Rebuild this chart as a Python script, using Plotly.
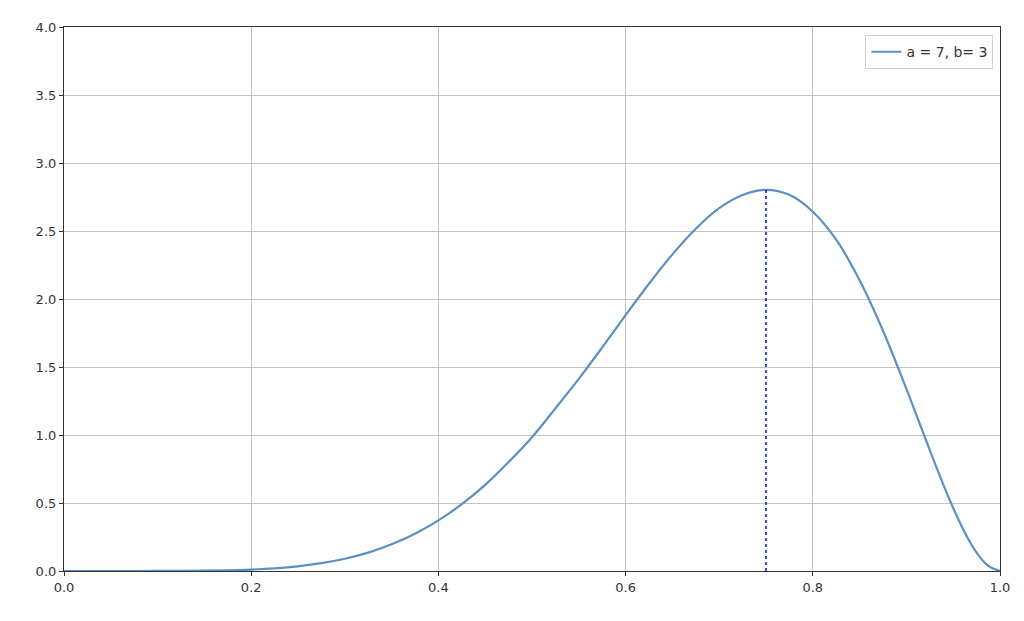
import plotly.graph_objects as go

# Curve samples (x in 0..1, density values)
x_vals = [0.0, 0.025, 0.05, 0.075, 0.1, 0.125, 0.15, 0.175, 0.2, 0.225, 0.25, 0.275,
          0.3, 0.325, 0.35, 0.375, 0.4, 0.425, 0.45, 0.475, 0.5, 0.525, 0.55, 0.575,
          0.6, 0.625, 0.65, 0.675, 0.7, 0.725, 0.75, 0.775, 0.8, 0.825, 0.85, 0.875,
          0.9, 0.9125, 0.925, 0.9375, 0.95, 0.9625, 0.975, 0.9875, 1.0]
y_vals = [0.0, 0.0, 0.0, 0.00004, 0.0002, 0.0007, 0.0021, 0.0049, 0.0103, 0.0196, 0.0346, 0.0573,
          0.090, 0.135, 0.196, 0.274, 0.372, 0.491, 0.633, 0.801, 0.984, 1.196, 1.413, 1.644,
          1.881, 2.112, 2.328, 2.517, 2.668, 2.765, 2.803, 2.766, 2.642, 2.436, 2.138, 1.767,
          1.339, 1.114, 0.888, 0.668, 0.463, 0.282, 0.135, 0.037, 0.0]
legend_label = "a = 7, b= 3"
mode_x = 0.75
mode_y = 2.803
x_ticks = [0.0, 0.2, 0.4, 0.6, 0.8, 1.0]
y_ticks = [0.0, 0.5, 1.0, 1.5, 2.0, 2.5, 3.0, 3.5, 4.0]

fig = go.Figure()
fig.add_trace(go.Scatter(x=x_vals, y=y_vals, mode="lines", name=legend_label,
                         line=dict(color="#5b90c5", width=2.2, shape="spline", smoothing=1.0)))
fig.add_trace(go.Scatter(x=[mode_x, mode_x], y=[0, mode_y], mode="lines", showlegend=False,
                         line=dict(color="rgba(0,0,255,0.75)", width=2, dash="dot")))

axis_common = dict(showline=True, linecolor="#333333", linewidth=1.2, mirror=True,
                   showgrid=True, gridcolor="#c4c4c4", gridwidth=1, zeroline=False,
                   ticks="outside", ticklen=4, tickcolor="#333333",
                   tickfont=dict(family="DejaVu Sans", size=13, color="#333333"))

fig.update_xaxes(range=[0, 1], tickvals=x_ticks, ticktext=[f"{v:.1f}" for v in x_ticks], **axis_common)
fig.update_yaxes(range=[0, 4], tickvals=y_ticks, ticktext=[f"{v:.1f}" for v in y_ticks], **axis_common)

fig.update_layout(
    width=1024, height=621,
    margin=dict(l=56, r=32, t=16, b=58),
    plot_bgcolor="white", paper_bgcolor="white",
    legend=dict(x=0.993, y=0.985, xanchor="right", yanchor="top",
                bgcolor="rgba(255,255,255,0.9)", bordercolor="#d0d0d0", borderwidth=1,
                font=dict(family="DejaVu Sans", size=14, color="#333333")),
)

fig.write_html("out.html")
